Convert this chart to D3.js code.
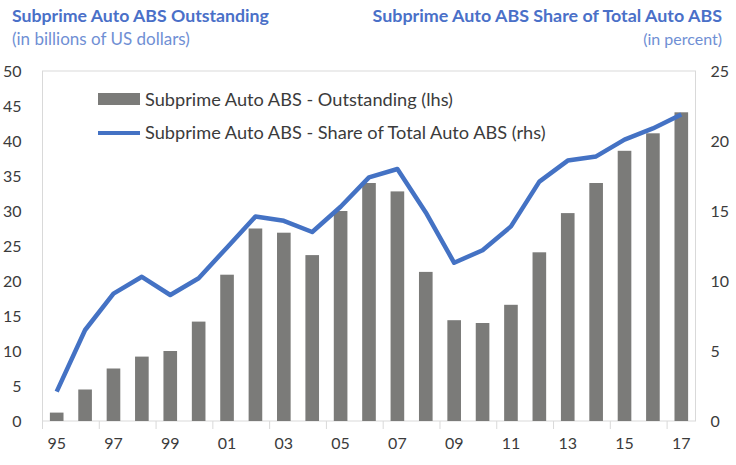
<!DOCTYPE html>
<html>
<head>
<meta charset="utf-8">
<script src="https://cdn.jsdelivr.net/npm/d3@7"></script>
<style>
  body { margin: 0; background: #fff; }
  text { font-family: Lato, "Open Sans", sans-serif; }
</style>
</head>
<body>
<div id="viz"></div>
<script>
const years = ["95", "96", "97", "98", "99", "00", "01", "02", "03", "04", "05", "06",
  "07", "08", "09", "10", "11", "12", "13", "14", "15", "16", "17"];
const outstanding = [1.2, 4.5, 7.5, 9.2, 10.0, 14.2, 20.9, 27.5, 26.9, 23.7, 30.0, 34.0,
  32.8, 21.3, 14.4, 14.0, 16.6, 24.1, 29.7, 34.0, 38.6, 41.1, 44.1];
const share = [2.1, 6.5, 9.1, 10.3, 9.0, 10.2, 12.4, 14.6, 14.3, 13.5, 15.3, 17.4,
  18.0, 14.9, 11.3, 12.2, 13.9, 17.1, 18.6, 18.9, 20.1, 20.9, 21.9];
const leftTicks = [0, 5, 10, 15, 20, 25, 30, 35, 40, 45, 50];
const rightTicks = [0, 5, 10, 15, 20, 25];
const legendLabels = [
  "Subprime Auto ABS - Outstanding (lhs)",
  "Subprime Auto ABS - Share of Total Auto ABS (rhs)",
];

const config = {
  width: 736,
  height: 465,
  left: 42.5,
  right: 695.5,
  top: 71,
  bottom: 421,
  barFill: "#7b7b79",
  lineStroke: "#4472c4",
  titleFill: "#4a70c8",
  subFill: "#6f8fd4",
  textFill: "#3b3b3b",
  gridStroke: "#d9d9d9",
  fontSize: 16,
};

const svg = d3
  .select("#viz")
  .append("svg")
  .attr("width", config.width)
  .attr("height", config.height);

const x = d3
  .scaleBand()
  .domain(years)
  .range([config.left, config.right])
  .paddingInner(0.52)
  .paddingOuter(0.26);

const yLeft = d3.scaleLinear().domain([0, 50]).range([config.bottom, config.top]);
const yRight = d3.scaleLinear().domain([0, 25]).range([config.bottom, config.top]);

// plot frame
svg
  .append("rect")
  .attr("x", config.left)
  .attr("y", config.top)
  .attr("width", config.right - config.left)
  .attr("height", config.bottom - config.top)
  .attr("fill", "none")
  .attr("stroke", config.gridStroke);

// category tick marks every two years
const step = x.step();
years.forEach((d, i) => {
  if (i % 2 !== 0) return;
  const tx = x(d) - (step - x.bandwidth()) / 2;
  svg
    .append("line")
    .attr("x1", tx)
    .attr("x2", tx)
    .attr("y1", config.bottom)
    .attr("y2", config.bottom + 8)
    .attr("stroke", config.gridStroke);
});

// bars
svg
  .selectAll(".bar")
  .data(years)
  .join("rect")
  .attr("class", "bar")
  .attr("x", (d) => x(d))
  .attr("width", x.bandwidth())
  .attr("y", (d, i) => yLeft(outstanding[i]))
  .attr("height", (d, i) => yLeft(0) - yLeft(outstanding[i]))
  .attr("fill", config.barFill);

// share line
const line = d3
  .line()
  .x((d, i) => x(years[i]) + x.bandwidth() / 2)
  .y((d) => yRight(d));

svg
  .append("path")
  .datum(share)
  .attr("d", line)
  .attr("fill", "none")
  .attr("stroke", config.lineStroke)
  .attr("stroke-width", 4.5)
  .attr("stroke-linejoin", "round");

// axes
const styleAxis = (g) => {
  g.select(".domain").remove();
  g.selectAll(".tick line").remove();
  g.selectAll("text")
    .attr("fill", config.textFill)
    .attr("font-size", config.fontSize)
    .attr("font-family", "Lato, sans-serif");
};

svg
  .append("g")
  .attr("transform", `translate(${config.left - 18},0)`)
  .call(d3.axisLeft(yLeft).tickValues(leftTicks).tickSize(0))
  .call(styleAxis);

svg
  .append("g")
  .attr("transform", `translate(${config.right + 12},0)`)
  .call(d3.axisRight(yRight).tickValues(rightTicks).tickSize(0))
  .call(styleAxis);

svg
  .append("g")
  .attr("transform", `translate(0,${config.bottom + 14})`)
  .call(
    d3.axisBottom(x).tickValues(years.filter((d, i) => i % 2 === 0)).tickSize(0)
  )
  .call(styleAxis);

// titles
const addText = (txt, xPos, yPos, opts) => {
  svg
    .append("text")
    .attr("x", xPos)
    .attr("y", yPos)
    .attr("text-anchor", opts.anchor || "start")
    .attr("font-size", opts.size || config.fontSize)
    .attr("font-weight", opts.weight || "normal")
    .attr("fill", opts.fill || config.textFill)
    .text(txt);
};

addText("Subprime Auto ABS Outstanding", 12, 22, {
  weight: "bold",
  fill: config.titleFill,
  size: 17.7,
});
addText("(in billions of US dollars)", 12, 45, { fill: config.subFill, size: 17 });
addText("Subprime Auto ABS Share of Total Auto ABS", 722, 22, {
  anchor: "end",
  weight: "bold",
  fill: config.titleFill,
  size: 17.9,
});
addText("(in percent)", 722, 45, { anchor: "end", fill: config.subFill, size: 16 });

// legend
svg
  .append("rect")
  .attr("x", 98)
  .attr("y", 93)
  .attr("width", 42)
  .attr("height", 12)
  .attr("fill", config.barFill);

svg
  .append("line")
  .attr("x1", 98)
  .attr("x2", 140)
  .attr("y1", 133)
  .attr("y2", 133)
  .attr("stroke", config.lineStroke)
  .attr("stroke-width", 4);

legendLabels.forEach((label, i) => {
  addText(label, 145, 106 + i * 33, { size: 18.2 });
});
</script>
</body>
</html>
